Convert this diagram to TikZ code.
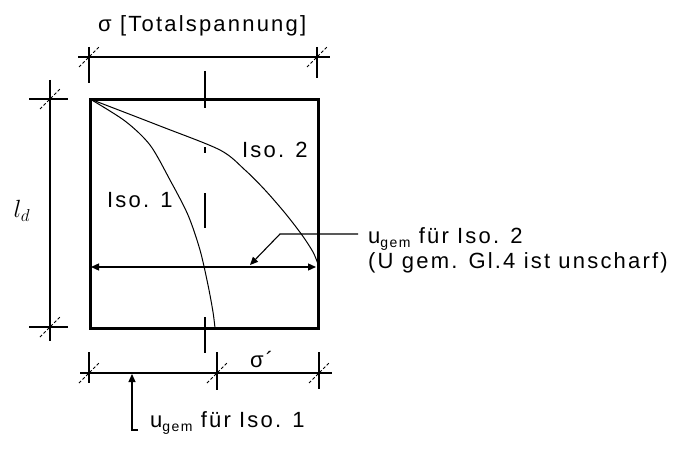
\documentclass[tikz,border=0pt]{standalone}
\usepackage{fontspec}
\setmainfont{Liberation Sans}[LetterSpace=10]
\usetikzlibrary{positioning, arrows.meta, calc}

\newcommand{\ugem}{u\raisebox{-4pt}{\fontsize{14}{14}\selectfont gem}}

\begin{document}
\begin{tikzpicture}[
    x=1pt, y=-1pt,
    >={Triangle[length=8pt, width=7pt]},
    every node/.style={font=\fontsize{22}{26}\selectfont, inner sep=0pt},
    wall/.style={line width=3pt, line join=miter},
    dim/.style={line width=1.3pt},
    slash/.style={line width=0.9pt, densely dashed},
    iso/.style={line width=1pt},
    centre/.style={line width=1.3pt},
    lead/.style={->, line width=1.1pt},
  ]
  \useasboundingbox (0,0) rectangle (688,452);

  % ============ Box ============
  \coordinate (tl) at (90,99);
  \coordinate (br) at (318,328);
  \draw[wall] (tl) rectangle (br);

  % ============ Centre line ============
  \foreach \ya/\yb in {71/108, 147/153, 193/228, 317/353}
    \draw[centre] (205,\ya) -- (205,\yb);

  % ============ Top dimension ============
  \coordinate (t1) at (78,57);
  \coordinate (t2) at (330,57);
  \draw[dim] (t1) -- (t2);
  \foreach \x/\ya/\yb in {89/47/83, 317/47/78} {
    \draw[dim] (\x,\ya) -- (\x,\yb);
    \draw[slash] (\x-10,67) -- (\x+10,47);
  }
  \node[anchor=base west] (title) at (98,32) {σ [Totalspannung]};

  % ============ Left dimension ============
  \coordinate (v1) at (50,80);
  \coordinate (v2) at (50,341);
  \draw[dim] (v1) -- (v2);
  \foreach \y in {99, 327} {
    \draw[dim] (29,\y) -- (68,\y);
    \draw[slash] (40,\y+10) -- (60,\y-10);
  }
  \node[font=\fontsize{25}{28}\selectfont] (ld) at (22,211) {$l_d$};

  % ============ Bottom dimension ============
  \coordinate (b1) at (80,373);
  \coordinate (b2) at (332,373);
  \draw[dim] (b1) -- (b2);
  \foreach \x/\yb in {89/383, 217/390, 319/389} {
    \draw[dim] (\x,352) -- (\x,\yb);
    \draw[slash] (\x-10,383) -- (\x+10,363);
  }
  \node[anchor=base west] (sig) at (250,367) {σ´};

  % ============ Isochrones ============
  \draw[iso] plot[smooth, tension=0.5] coordinates
    {(90,99) (125,121) (150,145) (170,180) (188,215) (200,250) (208,285) (213,312) (215,328)};
  \draw[iso] plot[smooth, tension=0.5] coordinates
    {(90,99) (160,126) (220,150) (245,170) (265,190) (285,213) (302,235) (313,252) (318,264)};
  \node[anchor=base west] (iso1) at (107,207) {Iso. 1};
  \node[anchor=base west] (iso2) at (242,157) {Iso. 2};

  % ============ u_gem arrow ============
  \coordinate (al) at (91,267);
  \coordinate (ar) at (316,267);
  \draw[dim, <->] (al) -- (ar);

  % ============ Labels with leaders ============
  \node[anchor=base west] (u2) at (368,243) {\ugem{} für Iso. 2};
  \node[anchor=base west] (u2b) at (368,268) {(U gem. Gl.4 ist unscharf)};
  \coordinate (l2) at (358,234);
  \coordinate (k2) at (280,234);
  \coordinate (a2) at (250,265);
  \draw[lead] (l2) -- (k2) -- (a2);

  \node[anchor=base west] (u1) at (150,427) {\ugem{} für Iso. 1};
  \coordinate (l1) at (138,430);
  \coordinate (a1) at (132,374);
  \draw[lead] (l1) -| (a1);

\end{tikzpicture}
\end{document}
